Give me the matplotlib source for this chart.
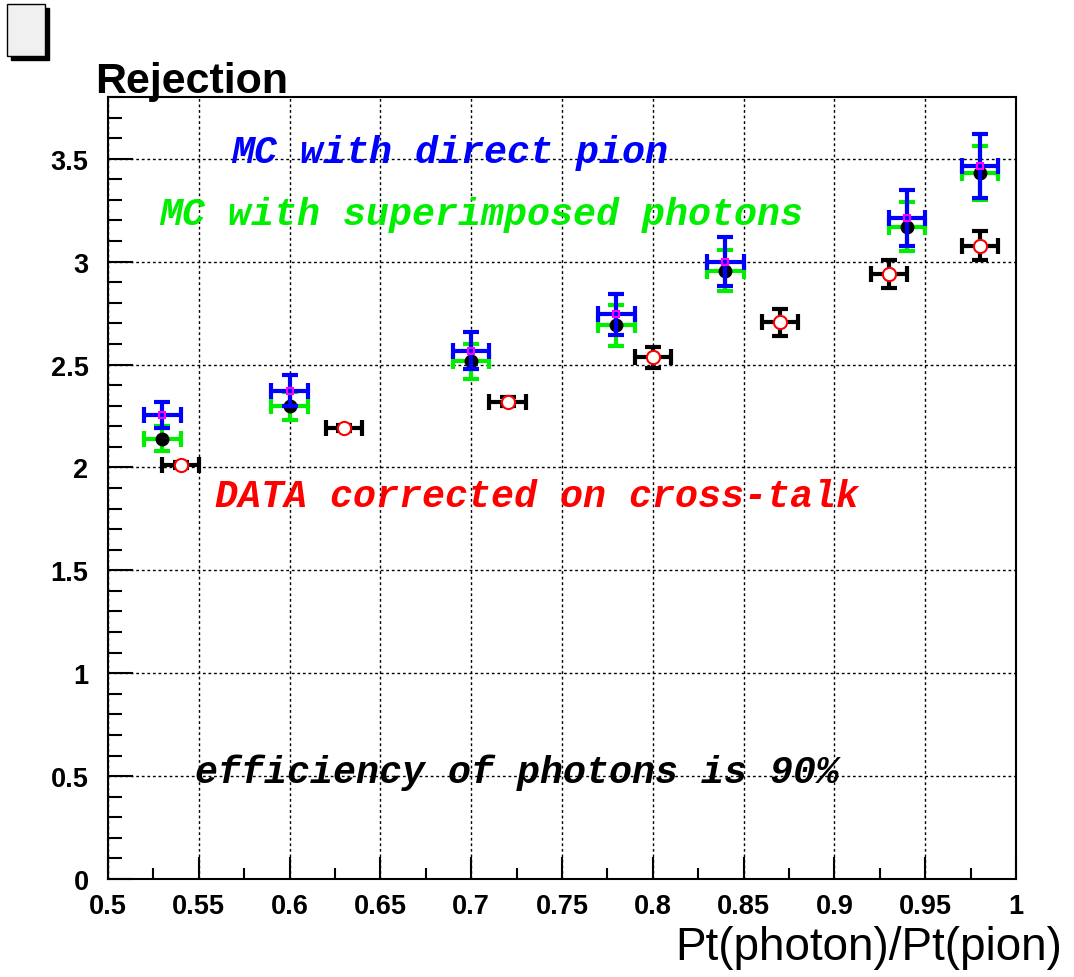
import matplotlib
matplotlib.use("Agg")
import matplotlib.pyplot as plt
from matplotlib import font_manager
from matplotlib.patches import Rectangle
from matplotlib.ticker import MultipleLocator, FormatStrFormatter

# MC with direct pion (blue bars, magenta marker)
mc_pion_x = [0.53, 0.60, 0.70, 0.78, 0.84, 0.94, 0.98]
mc_pion_y = [2.255, 2.372, 2.567, 2.745, 3.00, 3.213, 3.466]
mc_pion_yerr = [0.065, 0.075, 0.09, 0.10, 0.12, 0.135, 0.155]

# MC with superimposed photons (green bars, black dots)
mc_phot_x = [0.53, 0.60, 0.70, 0.78, 0.84, 0.94, 0.98]
mc_phot_y = [2.14, 2.30, 2.515, 2.69, 2.955, 3.17, 3.43]
mc_phot_yerr = [0.06, 0.068, 0.085, 0.10, 0.10, 0.12, 0.13]

# DATA corrected on cross-talk (red open circles)
data_x = [0.54, 0.63, 0.72, 0.80, 0.87, 0.93, 0.98]
data_y = [2.01, 2.19, 2.32, 2.535, 2.705, 2.94, 3.077]
data_yerr = [0.015, 0.015, 0.02, 0.05, 0.065, 0.07, 0.07]

x_err = 0.01

names = {f.name for f in font_manager.fontManager.ttflist}
if "Liberation Sans Narrow" in names:
	sans = "Liberation Sans Narrow"
	tick_fs, title_fs, xlab_fs = 23, 36, 39
else:
	sans = "Liberation Sans"
	tick_fs, title_fs, xlab_fs = 19.5, 31, 33
mono = "Liberation Mono"


def draw(ax):
	bar = dict(fmt="none", elinewidth=3, capsize=6, capthick=3)
	ax.errorbar(mc_phot_x, mc_phot_y, xerr=x_err, yerr=mc_phot_yerr, ecolor="#00ee00", zorder=3, **bar)
	ax.plot(mc_phot_x, mc_phot_y, "o", color="black", ms=9, zorder=4)
	ax.errorbar(mc_pion_x, mc_pion_y, xerr=x_err, yerr=mc_pion_yerr, ecolor="#0000ff", zorder=5, **bar)
	ax.plot(mc_pion_x, mc_pion_y, "s", mfc="none", mec="#ff00ff", mew=1.5, ms=5, zorder=6)
	ax.errorbar(data_x, data_y, xerr=x_err, yerr=data_yerr, ecolor="black", zorder=3, **bar)
	ax.plot(data_x, data_y, "o", mfc="white", mec="red", mew=1.5, ms=9.5, zorder=4)

	txt = dict(family=mono, fontsize=27.5, fontweight="bold", fontstyle="italic", va="baseline")
	ax.text(0.568, 3.486, "MC with direct pion", color="#0000ff", **txt)
	ax.text(0.528, 3.184, "MC with superimposed photons", color="#00ee00", **txt)
	ax.text(0.559, 1.813, "DATA corrected on cross-talk", color="red", **txt)
	ax.text(0.548, 0.472, "efficiency of photons is 90%", color="black", **txt)


def style(ax):
	ax.set_xlim(0.5, 1.0)
	ax.set_ylim(0, 3.8)
	ax.xaxis.set_major_locator(MultipleLocator(0.05))
	ax.xaxis.set_minor_locator(MultipleLocator(0.025))
	ax.yaxis.set_major_locator(MultipleLocator(0.5))
	ax.yaxis.set_minor_locator(MultipleLocator(0.1))
	ax.xaxis.set_major_formatter(FormatStrFormatter("%g"))
	ax.yaxis.set_major_formatter(FormatStrFormatter("%g"))
	ax.grid(True, which="major", color="black", linestyle=(0, (2, 2)), linewidth=1)
	ax.set_axisbelow(True)
	ax.tick_params(axis="x", which="major", direction="in", length=16, width=1.5, pad=10)
	ax.tick_params(axis="x", which="minor", direction="in", length=8, width=1.5)
	ax.tick_params(axis="y", which="major", direction="in", length=18, width=1.5, pad=14)
	ax.tick_params(axis="y", which="minor", direction="in", length=10, width=1.5)
	for lab in ax.get_xticklabels() + ax.get_yticklabels():
		lab.set_family(sans)
		lab.set_fontweight("bold")
		lab.set_fontsize(tick_fs)
	for sp in ax.spines.values():
		sp.set_linewidth(1.5)


def main():
	fig = plt.figure(figsize=(10.74, 9.78), dpi=100)
	ax = fig.add_axes([108 / 1074, 98 / 978, 908 / 1074, 782 / 978])
	draw(ax)
	style(ax)

	fig.text(95 / 1074, (978 - 93) / 978, "Rejection", family=sans, fontweight="bold",
		fontsize=title_fs, va="baseline", ha="left")
	fig.text(1062 / 1074, (978 - 960) / 978, "Pt(photon)/Pt(pion)", family=sans,
		fontsize=xlab_fs, va="baseline", ha="right")

	# empty ROOT title box with shadow
	fig.patches.append(Rectangle((11 / 1074, (978 - 61) / 978), 38 / 1074, 52 / 978,
		transform=fig.transFigure, facecolor="black", edgecolor="black"))
	fig.patches.append(Rectangle((7 / 1074, (978 - 57) / 978), 38 / 1074, 52 / 978,
		transform=fig.transFigure, facecolor="#f0f0f0", edgecolor="black", linewidth=1))

	fig.savefig("out.png", dpi=100)


if __name__ == "__main__":
	main()
